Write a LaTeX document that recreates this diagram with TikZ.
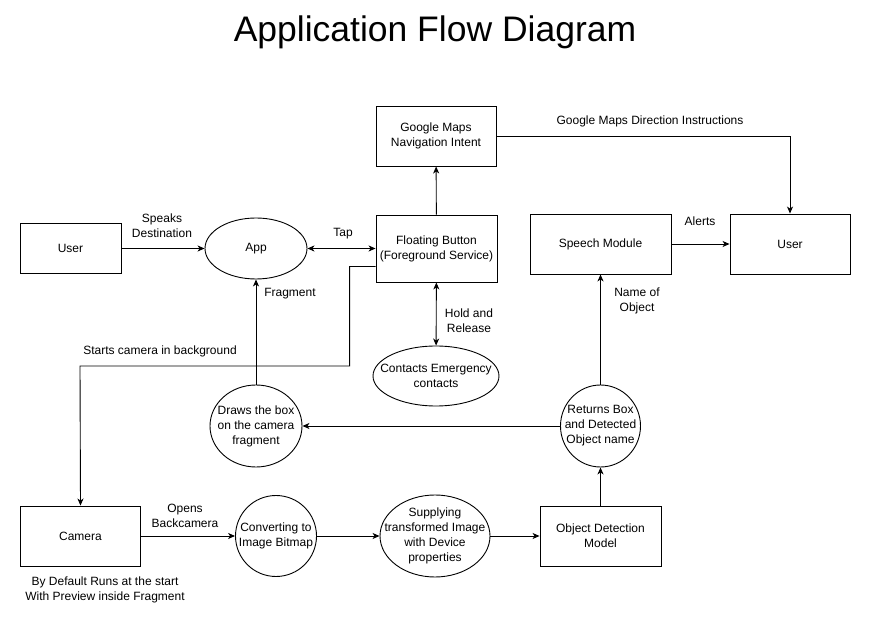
\documentclass[tikz,border=0pt]{standalone}
\usepackage{fontspec}
\setmainfont{Liberation Sans}
\usetikzlibrary{shapes.geometric,arrows.meta}
\begin{document}
\begin{tikzpicture}[x=1pt,y=-1pt,
  every node/.style={font=\fontsize{12}{15}\selectfont, align=center, inner sep=0pt},
  box/.style={draw, line width=0.9pt, rectangle, minimum width=#1},
  box/.default=120pt,
  oval/.style={draw, line width=0.9pt, ellipse},
  ovtext/.style={font=\fontsize{12}{15}\selectfont, align=center, inner sep=0pt},
  lbl/.style={},
  arr/.style={line width=0.9pt, -{Stealth[length=7pt,width=6pt,inset=2pt]}},
  darr/.style={line width=0.9pt, {Stealth[length=7pt,width=6pt,inset=2pt]}-{Stealth[length=7pt,width=6pt,inset=2pt]}}
]
\useasboundingbox (0,0) rectangle (871,617);
\fill[white] (0,0) rectangle (871,617);

\node (title) at (435,32) {\fontsize{35.5}{40}\selectfont Application Flow Diagram};

% nodes
\node[box=101pt, minimum height=50pt] (user1) at (70.5,248.5) {User};
\node[oval, minimum width=102pt, minimum height=61pt, label={[ovtext]center:App}] (app) at (256,248.5) {};
\node[box=121pt, minimum height=67pt] (fb) at (436.5,248.5) {Floating Button\\(Foreground Service)};
\node[box=120pt, minimum height=60pt] (gm) at (436,136) {Google Maps\\Navigation Intent};
\node[oval, minimum width=126pt, minimum height=60pt, label={[ovtext]center:Contacts Emergency\\contacts}] (ce) at (436,376) {};
\node[box=141pt, minimum height=60pt] (sm) at (600.5,244) {Speech Module};
\node[box=120pt, minimum height=60pt] (user2) at (790,244) {User};
\node[oval, minimum width=92pt, minimum height=82pt, label={[ovtext]center:Draws the box\\on the camera\\fragment}] (dr) at (256,426) {};
\node[oval, minimum width=80pt, minimum height=82pt, label={[ovtext]center:Returns Box\\and Detected\\Object name}] (rb) at (600.5,426) {};
\node[box=120pt, minimum height=60pt] (cam) at (80.5,536) {Camera};
\node[oval, minimum width=81pt, minimum height=81pt, label={[ovtext]center:Converting to\\Image Bitmap}] (cv) at (276,536) {};
\node[oval, minimum width=110pt, minimum height=82pt, label={[ovtext]center:Supplying\\transformed Image\\with Device\\properties}] (sup) at (435,536) {};
\node[box=121pt, minimum height=60pt] (od) at (600.5,536) {Object Detection\\Model};

% connectors
\draw[arr] (user1) -- (app);
\draw[darr] (app) -- (fb);
\draw[arr] (fb) -- (gm);
\draw[darr] (fb) -- (ce);
\draw[arr] (gm.east) -| (user2.north);
\draw[arr] (sm) -- (user2);
\coordinate (sc) at ([yshift=-18pt]fb.west);
\draw[arr] (sc) -- ++(-26,0) |- (80,366) -- (cam.north);
\draw[arr] (dr) -- (app);
\draw[arr] (rb) -- (dr);
\draw[arr] (od) -- (rb);
\draw[arr] (rb) -- (sm);
\draw[arr] (cam) -- (cv);
\draw[arr] (cv) -- (sup);
\draw[arr] (sup) -- (od);

% labels
\node[lbl] (l1) at (162,226) {Speaks\\Destination};
\node[lbl] (l2) at (343,234) {Tap};
\node[lbl] (l3) at (290,294) {Fragment};
\node[lbl] (l4) at (469,321) {Hold and\\Release};
\node[lbl] (l5) at (650,121) {Google Maps Direction Instructions};
\node[lbl] (l6) at (700,221) {Alerts};
\node[lbl] (l7) at (637,301) {Name of\\Object};
\node[lbl] (l8) at (160,351) {Starts camera in background};
\node[lbl] (l9) at (185,516) {Opens\\Backcamera};
\node[lbl] (l10) at (105,590) {By Default Runs at the start\\With Preview inside Fragment};
\end{tikzpicture}
\end{document}
